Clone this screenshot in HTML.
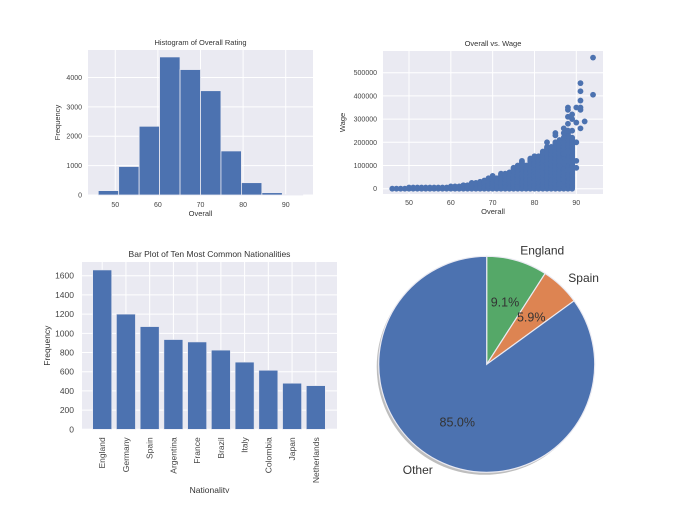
<!DOCTYPE html>
<html><head><meta charset="utf-8"><style>
html,body{margin:0;padding:0;background:#fff;}
svg{display:block;font-family:"Liberation Sans","DejaVu Sans",sans-serif;}
</style></head><body>
<svg id="fig" width="692" height="516" viewBox="0 0 692 516" xmlns="http://www.w3.org/2000/svg">
<defs><clipPath id="cb"><rect x="0" y="0" width="692" height="493"/></clipPath></defs>
</svg>
<script>
// ---- Histogram data ----
const histEdges = [46,50.8,55.6,60.4,65.2,70,74.8,79.6,84.4,89.2,94];
const histCounts = [150,970,2340,4700,4270,3550,1500,420,80,10];
const histXTicks = [50,60,70,80,90];
const histYTicks = [0,1000,2000,3000,4000];
// ---- Scatter data ----
const scatterRatings = [46,47,48,49,50,51,52,53,54,55,56,57,58,59,60,61,62,63,64,65,66,67,68,69,70,71,72,73,74,75,76,77,78,79,80,81,82,83,84,85,86,87,88,89];
const scatterColumnMax = [3000,3000,4000,4000,5000,5000,6000,6000,7000,7000,7000,8000,8000,9000,10000,10000,12000,15000,18000,25000,28000,30000,35000,45000,55000,45000,65000,65000,70000,90000,100000,120000,100000,130000,140000,140000,160000,180000,170000,200000,210000,200000,250000,220000];
const outlierRatings = [83,84,85,85,86,86,86,87,87,87,87,87,88,88,88,88,88,88,88,88,89,89,89,89,89,90,90,90,90,90,91,91,91,91,91,91,92,94,94];
const outlierWages = [200000,180000,240000,230000,100000,120000,20000,260000,240000,220000,150000,110000,350000,340000,310000,280000,250000,160000,120000,80000,320000,300000,250000,140000,110000,350000,285000,200000,120000,90000,455000,420000,380000,350000,340000,260000,290000,565000,405000];
const scatterXTicks = [50,60,70,80,90];
const scatterYTicks = [0,100000,200000,300000,400000,500000];
// ---- Bar data ----
const nations = ["England","Germany","Spain","Argentina","France","Brazil","Italy","Colombia","Japan","Netherlands"];
const nationCounts = [1660,1200,1070,935,910,825,700,615,480,455];
const barYTicks = [0,200,400,600,800,1000,1200,1400,1600];
// ---- Pie data ----
const pieLabels = ["England","Spain","Other"];
const pieValues = [9.1,5.9,85.0];
const pieColors = ["#55a868","#dd8452","#4c72b0"];

const NS="http://www.w3.org/2000/svg";
const svg=document.getElementById('fig');
function mk(tag,attrs,parent){const e=document.createElementNS(NS,tag);for(const k in attrs)e.setAttribute(k,attrs[k]);(parent||svg).appendChild(e);return e;}
function txt(s,attrs,parent){const e=mk('text',attrs,parent);e.textContent=s;return e;}

// ===== Histogram =====
(function(){
  const L=88,R=313,T=50,B=195;
  const xs=v=>L+(v-43.6)/(96.4-43.6)*(R-L);
  const ys=v=>B-v/4935*(B-T);
  const g=mk('g',{});
  
  
  const bg=mk('rect',{x:L,y:T,width:R-L,height:B-T,fill:'#eaeaf2'},g);
  
  histXTicks.forEach(t=>{mk('line',{x1:xs(t),x2:xs(t),y1:T,y2:B,stroke:'#fff','stroke-width':1},g);
    const l=txt(t,{x:xs(t),y:B+12,'font-size':7,fill:'#444','text-anchor':'middle'},g);
    });
  histYTicks.forEach(t=>{mk('line',{x1:L,x2:R,y1:ys(t),y2:ys(t),stroke:'#fff','stroke-width':1},g);
    const l=txt(t,{x:L-6,y:ys(t)+2.5,'font-size':7,fill:'#444','text-anchor':'end'},g);
    });
  histCounts.forEach((c,i)=>{const x0=xs(histEdges[i]),x1=xs(histEdges[i+1]);
    const r=mk('rect',{x:x0,y:ys(c),width:x1-x0,height:B-ys(c),fill:'#4c72b0',stroke:'#eaeaf2','stroke-width':0.8},g);
    });
  const t=txt('Histogram of Overall Rating',{x:(L+R)/2,y:T-5,'font-size':7.5,fill:'#333','text-anchor':'middle'},g);
  
  const xl=txt('Overall',{x:(L+R)/2,y:B+21,'font-size':7.5,fill:'#333','text-anchor':'middle'},g);
  
  const yl=txt('Frequency',{x:0,y:0,'font-size':7.5,fill:'#333','text-anchor':'middle',transform:`translate(60,${(T+B)/2}) rotate(-90)`},g);
  
})();

// ===== Scatter =====
(function(){
  const L=383,R=603,T=51,B=194;
  const xs=v=>409+(v-50)*(576.3-409)/40;
  const ys=v=>188.7-v*(188.7-72.7)/500000;
  const g=mk('g',{});
  
  
  const bg=mk('rect',{x:L,y:T,width:R-L,height:B-T,fill:'#eaeaf2'},g);
  
  scatterXTicks.forEach(t=>{mk('line',{x1:xs(t),x2:xs(t),y1:T,y2:B,stroke:'#fff','stroke-width':1},g);
    const l=txt(t,{x:xs(t),y:B+11,'font-size':7,fill:'#444','text-anchor':'middle'},g);
    });
  scatterYTicks.forEach(t=>{mk('line',{x1:L,x2:R,y1:ys(t),y2:ys(t),stroke:'#fff','stroke-width':1},g);
    const l=txt(t,{x:L-6,y:ys(t)+2.5,'font-size':7,fill:'#444','text-anchor':'end'},g);
    });
  const pts=mk('g',{fill:'#4c72b0'},g);
  
  scatterRatings.forEach((r,i)=>{const hi=scatterColumnMax[i];
    for(let w=0;w<=hi;w+=5000){const c=mk('circle',{cx:xs(r),cy:ys(w),r:2.9},pts);
      }});
  outlierRatings.forEach((r,i)=>{const c=mk('circle',{cx:xs(r),cy:ys(outlierWages[i]),r:2.9},pts);
    });
  const t=txt('Overall vs. Wage',{x:(L+R)/2,y:T-5,'font-size':7.5,fill:'#333','text-anchor':'middle'},g);
  
  const xl=txt('Overall',{x:(L+R)/2,y:B+20,'font-size':7.5,fill:'#333','text-anchor':'middle'},g);
  
  const yl=txt('Wage',{x:0,y:0,'font-size':7.5,fill:'#333','text-anchor':'middle',transform:`translate(345,${(T+B)/2}) rotate(-90)`},g);
  
})();

// ===== Bar chart =====
(function(){
  const L=82,R=337,T=262,B=429.3;
  const step=(315.8-102.2)/9;
  const xs=i=>102.2+i*step;
  const ys=v=>B-v/1743*(B-T);
  const g=mk('g',{'clip-path':'url(#cb)'});
  
  
  const bg=mk('rect',{x:L,y:T,width:R-L,height:B-T,fill:'#eaeaf2'},g);
  
  nations.forEach((n,i)=>{mk('line',{x1:xs(i),x2:xs(i),y1:T,y2:B,stroke:'#fff','stroke-width':1},g);});
  barYTicks.forEach(t=>{mk('line',{x1:L,x2:R,y1:ys(t),y2:ys(t),stroke:'#fff','stroke-width':1},g);
    const l=txt(t,{x:L-8,y:ys(t)+3,'font-size':8.5,fill:'#444','text-anchor':'end'},g);
    });
  const bw=step*0.8;
  nationCounts.forEach((c,i)=>{const r=mk('rect',{x:xs(i)-bw/2,y:ys(c),width:bw,height:B-ys(c),fill:'#4c72b0',stroke:'#eaeaf2','stroke-width':0.6},g);
    });
  nations.forEach((n,i)=>{const l=txt(n,{x:0,y:0,'font-size':8.5,fill:'#444','text-anchor':'end',transform:`translate(${xs(i)+3},${B+8}) rotate(-90)`},g);
    });
  const t=txt('Bar Plot of Ten Most Common Nationalities',{x:(L+R)/2,y:T-5,'font-size':8.5,fill:'#333','text-anchor':'middle'},g);
  
  const xl=txt('Nationality',{x:(L+R)/2,y:493,'font-size':8.5,fill:'#333','text-anchor':'middle'},g);
  
  const yl=txt('Frequency',{x:0,y:0,'font-size':8.5,fill:'#333','text-anchor':'middle',transform:`translate(50,${(T+B)/2}) rotate(-90)`},g);
  
})();

// ===== Pie =====
(function(){
  const cx=486.7,cy=364.3,R=108;
  const g=mk('g',{});
  
  
  const sh=mk('circle',{cx:cx-2,cy:cy+2.5,r:R,fill:'#888','fill-opacity':0.55},g);
  
  const total=pieValues.reduce((a,b)=>a+b,0);
  let a=90;
  const pt=(ang,r)=>[cx+r*Math.cos(ang*Math.PI/180),cy-r*Math.sin(ang*Math.PI/180)];
  pieValues.forEach((v,i)=>{
    const sweep=v/total*360,a1=a-sweep;
    const [x0,y0]=pt(a,R),[x1,y1]=pt(a1,R);
    const large=sweep>180?1:0;
    const p=mk('path',{d:`M${cx},${cy} L${x0},${y0} A${R},${R} 0 ${large} 1 ${x1},${y1} Z`,fill:pieColors[i],stroke:'#eaeaf2','stroke-width':1.2},g);
    
    const mid=(a+a1)/2;
    const [lx,ly]=pt(mid,R*1.1);
    const c=Math.cos(mid*Math.PI/180);
    const lab=txt(pieLabels[i],{x:lx,y:ly+4,'font-size':12,fill:'#333','text-anchor':c>=0?'start':'end'},g);
    
    const [px,py]=pt(mid,R*0.6);
    const pc=txt(v.toFixed(1)+'%',{x:px,y:py+4.5,'font-size':12.5,fill:'#333','text-anchor':'middle'},g);
    
    a=a1;
  });
})();
</script>
</body></html>
